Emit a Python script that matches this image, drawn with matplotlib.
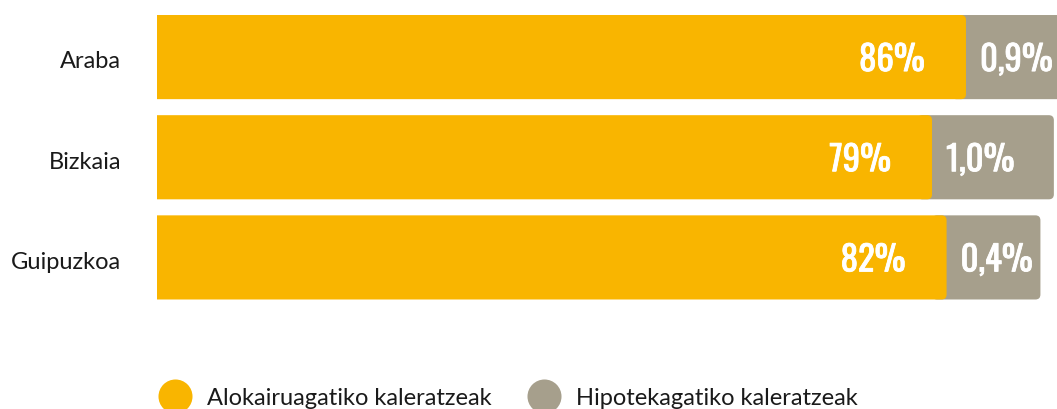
import matplotlib
matplotlib.use("Agg")
import matplotlib.pyplot as plt
from matplotlib import font_manager
from matplotlib.lines import Line2D
from matplotlib.patches import FancyBboxPatch
import matplotlib.patheffects as pe

# ---- data ----
regions = ["Araba", "Bizkaia", "Guipuzkoa"]
rent_pct = [86, 79, 82]
mortgage_pct = [0.9, 1.0, 0.4]
rent_labels = ["86%", "79%", "82%"]
mortgage_labels = ["0,9%", "1,0%", "0,4%"]
legend_labels = ["Alokairuagatiko kaleratzeak", "Hipotekagatiko kaleratzeak"]

# ---- style ----
YELLOW = "#F9B500"
GREY = "#A69F8C"
TEXT = "#1A1A1A"
BASE = -80.8          # common bar baseline (infographic, not zero-based)
GREY_PAD = 15.5       # minimum width of the grey tag segment
GREY_K = 9.62         # scale of the grey segment
PX_PER_UNIT = 4.85

available = {f.name for f in font_manager.fontManager.ttflist}
label_font = "Lato" if "Lato" in available else "DejaVu Sans"
num_font = "DejaVu Sans"
for cand in ["Oswald", "Bebas Neue", "Liberation Sans Narrow", "Roboto Condensed"]:
    if cand in available:
        num_font = cand
        break

W, H = 1057, 410
fig = plt.figure(figsize=(W / 100, H / 100), dpi=100)
ax_left, ax_right = 157, 1057
ax_top, ax_bottom = 8, 308.5
ax = fig.add_axes([ax_left / W, 1 - ax_bottom / H, (ax_right - ax_left) / W, (ax_bottom - ax_top) / H])

ys = list(range(len(regions)))
yellow_bars = ax.barh(ys, [v - BASE for v in rent_pct], left=BASE, height=0.84,
                      color=YELLOW, zorder=3)
grey_bars = ax.barh(ys, [GREY_PAD + GREY_K * g for g in mortgage_pct], left=rent_pct,
                    height=0.84, color=GREY, zorder=2)

ax.set_xlim(BASE, BASE + (ax_right - ax_left) / PX_PER_UNIT)
ax.set_ylim(len(regions) - 0.5, -0.5)
ax.axis("off")

# round the right-hand corners of each bar
r_px = 5
r_units = r_px / PX_PER_UNIT
aspect = (r_px / 100) / r_units


def round_right(rect, extend_left):
    x, y = rect.get_x(), rect.get_y()
    w, h = rect.get_width(), rect.get_height()
    p = FancyBboxPatch((x - extend_left, y), w + extend_left, h,
                       boxstyle=f"round,pad=0,rounding_size={r_units}",
                       mutation_aspect=aspect, facecolor=rect.get_facecolor(),
                       edgecolor="none", zorder=rect.get_zorder())
    rect.set_visible(False)
    ax.add_patch(p)


for rect in yellow_bars:
    round_right(rect, 5)
for rect in grey_bars:
    round_right(rect, 3)

yt = ax.get_yaxis_transform()
for y, name in zip(ys, regions):
    ax.annotate(name, xy=(0, y), xycoords=yt, xytext=(-36 * 0.72, -10.3 * 0.72),
                textcoords="offset points", ha="right", va="baseline",
                fontsize=17, family=label_font, color=TEXT)

stroke = [pe.withStroke(linewidth=0.6, foreground="white")]
for y, v, lab in zip(ys, rent_pct, rent_labels):
    ax.annotate(lab, xy=(v, y), xytext=(-41 * 0.72, -14 * 0.72), textcoords="offset points",
                ha="right", va="baseline", fontsize=25, fontweight="bold",
                family=num_font, color="white", zorder=5, path_effects=stroke)
for y, v, lab in zip(ys, rent_pct, mortgage_labels):
    ax.annotate(lab, xy=(v, y), xytext=(14 * 0.72, -14 * 0.72), textcoords="offset points",
                ha="left", va="baseline", fontsize=25, fontweight="bold",
                family=num_font, color="white", zorder=5, path_effects=stroke)

handles = [Line2D([], [], marker="o", linestyle="", markersize=24.5, color=c, markeredgewidth=0)
           for c in (YELLOW, GREY)]
leg = fig.legend(handles, legend_labels, loc="center left",
                 bbox_to_anchor=(157.5 / W, 1 - 399 / H), ncol=2, frameon=False,
                 prop={"family": label_font, "size": 17}, handlelength=1.48,
                 handletextpad=0.61, columnspacing=1.5, borderpad=0, borderaxespad=0)
for t in leg.get_texts():
    t.set_color(TEXT)

fig.savefig("out.png", dpi=100)
